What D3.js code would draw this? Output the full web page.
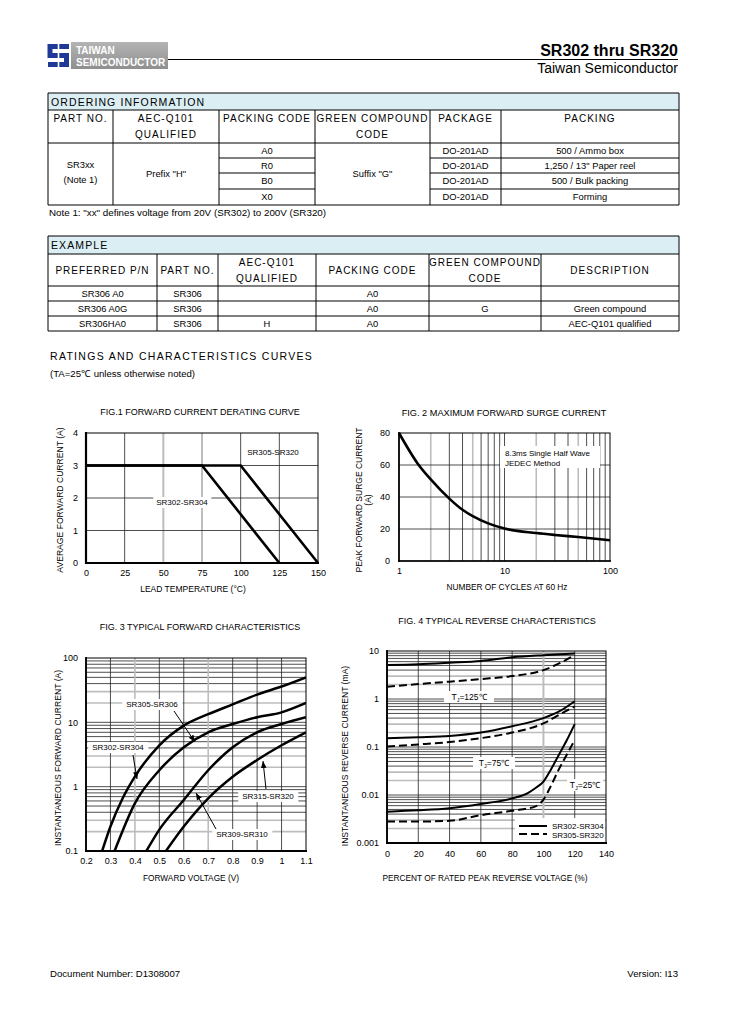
<!DOCTYPE html>
<html><head><meta charset="utf-8">
<script src="https://cdn.jsdelivr.net/npm/d3@7"></script>
<style>
body{margin:0;background:#fff}
svg{display:block}
text{font-family:"Liberation Sans",Arial,sans-serif;fill:#000}
</style>
</head><body>
<svg id="c" width="729" height="1032"></svg>
<script>
// ---------------- DATA ----------------
const orderTitle = "ORDERING INFORMATION";
const orderHeaders = [["PART NO."],["AEC-Q101","QUALIFIED"],["PACKING CODE"],["GREEN COMPOUND","CODE"],["PACKAGE"],["PACKING"]];
const orderPart = ["SR3xx","(Note 1)"];
const orderAec = "Prefix \"H\"";
const orderGreen = "Suffix \"G\"";
const packingCodes = ["A0","R0","B0","X0"];
const packages = ["DO-201AD","DO-201AD","DO-201AD","DO-201AD"];
const packings = ["500 / Ammo box","1,250 / 13\" Paper reel","500 / Bulk packing","Forming"];
const orderNote = "Note 1: \"xx\" defines voltage from 20V (SR302) to 200V (SR320)";

const exampleTitle = "EXAMPLE";
const exampleHeaders = [["PREFERRED P/N"],["PART NO."],["AEC-Q101","QUALIFIED"],["PACKING CODE"],["GREEN COMPOUND","CODE"],["DESCRIPTION"]];
const exampleRows = [
  ["SR306 A0","SR306","","A0","",""],
  ["SR306 A0G","SR306","","A0","G","Green compound"],
  ["SR306HA0","SR306","H","A0","","AEC-Q101 qualified"]
];

// Fig 1
const fig1XTicks = [0,25,50,75,100,125,150];
const fig1YTicks = [0,1,2,3,4];
const fig1LightX = [50,75];
const fig1Temp302 = [0,75,125];
const fig1Cur302  = [3,3,0];
const fig1Temp305 = [0,100,150];
const fig1Cur305  = [3,3,0];

// Fig 2
const fig2XTicks = [1,10,100];
const fig2YTicks = [0,20,40,60,80];
const fig2LightX = [2,5,20,50];
const fig2Cycles  = [1,1.5,2,3,4,5,7,10,20,30,50,100];
const fig2Current = [80,61,51,39,32,28,23.5,20.3,17.5,16.3,15,13];

// Fig 3
const fig3XTicks = [0.2,0.3,0.4,0.5,0.6,0.7,0.8,0.9,1.0,1.1];
const fig3YTicks = [0.1,1,10,100];
const fig3LightX = [0.4,0.7];
const fig3V302 = [0.266,0.30,0.35,0.40,0.50,0.60,0.70,0.80,0.90,1.00,1.10];
const fig3I302 = [0.1,0.24,0.66,1.43,4.4,8.9,13.4,19,27,36,50];
const fig3V305 = [0.317,0.40,0.50,0.60,0.70,0.80,0.90,1.00,1.10];
const fig3I305 = [0.1,0.55,1.8,4.1,7,9.4,12,14.3,20];
const fig3V309 = [0.447,0.50,0.60,0.70,0.80,0.90,1.00,1.10];
const fig3I309 = [0.1,0.215,0.62,1.8,4.1,7,9.4,12];
const fig3V315 = [0.527,0.60,0.70,0.80,0.90,1.00,1.10];
const fig3I315 = [0.1,0.24,0.66,1.43,2.6,4.4,7];

// Fig 4
const fig4XTicks = [0,20,40,60,80,100,120,140];
const fig4YTicks = [0.001,0.01,0.1,1,10];
const fig4LightX = [100];
const fig4Pct125s = [0,20,40,60,80,100,120];
const fig4Cur125s = [5.1,5.3,5.7,6.2,7.4,8.2,8.9];
const fig4Pct125d = [0,20,40,60,80,100,110,120];
const fig4Cur125d = [1.8,2.05,2.3,2.6,3.0,4.0,5.5,8.2];
const fig4Pct75s = [0,20,40,60,80,100,110,120];
const fig4Cur75s = [0.153,0.16,0.17,0.2,0.27,0.4,0.55,0.9];
const fig4Pct75d = [0,20,40,60,80,100,110,120];
const fig4Cur75d = [0.102,0.113,0.127,0.153,0.2,0.31,0.47,0.7];
const fig4Pct25s = [0,20,40,60,80,90,95,100,105,110,115,120];
const fig4Cur25s = [0.0045,0.0048,0.0053,0.0065,0.0085,0.011,0.014,0.019,0.035,0.07,0.14,0.3];
const fig4Pct25d = [0,20,40,60,80,95,100,105,110,115,120];
const fig4Cur25d = [0.0028,0.0028,0.0029,0.0038,0.0047,0.0058,0.008,0.016,0.035,0.07,0.14];

// ---------------- DRAWING ----------------
const svg = d3.select("#c");
svg.append("rect").attr("width",729).attr("height",1032).attr("fill","#fff");

function T(g,x,y,s,o={}){
  const t=g.append("text").attr("x",x).attr("y",y).text(s)
    .attr("font-size",o.size||9)
    .attr("text-anchor",o.anchor||"start");
  if(o.weight) t.attr("font-weight",o.weight);
  if(o.ls) t.attr("letter-spacing",o.ls);
  if(o.fill) t.style("fill",o.fill);
  return t;
}
function L(g,x1,y1,x2,y2,stroke="#000",w=1){
  return g.append("line").attr("x1",x1).attr("y1",y1).attr("x2",x2).attr("y2",y2)
    .attr("stroke",stroke).attr("stroke-width",w);
}

// ---- Header ----
const defs = svg.append("defs");
const gr = defs.append("linearGradient").attr("id","lg").attr("x1",0).attr("x2",0).attr("y1",0).attr("y2",1);
gr.append("stop").attr("offset","0%").attr("stop-color","#b4b4b4");
gr.append("stop").attr("offset","100%").attr("stop-color","#8f8f8f");
const hdr = svg.append("g");
hdr.append("path").attr("d","M69,46.5 H50 V55.5 H66.5 V64.5 H48")
  .attr("fill","none").attr("stroke","#1e3a96").attr("stroke-width",5);
L(hdr,58.5,43,58.5,68,"#fff",1.6);
hdr.append("rect").attr("x",71).attr("y",42).attr("width",97).attr("height",27).attr("fill","url(#lg)");
T(hdr,76,53.5,"TAIWAN",{size:10,weight:"bold",fill:"#fff"});
T(hdr,76,66,"SEMICONDUCTOR",{size:10,weight:"bold",fill:"#fff"});
L(hdr,168,59.5,678,59.5,"#000",1);
T(hdr,678,56,"SR302 thru SR320",{size:16,weight:"bold",anchor:"end"});
T(hdr,678,73,"Taiwan Semiconductor",{size:14,anchor:"end"});

// ---- Ordering table ----
const CELL=9.4;
const ot = svg.append("g");
const oc = [48,113,219,315,430,501,679];
const oRows = [143,158,173,189,205];
ot.append("rect").attr("x",48).attr("y",93).attr("width",631).attr("height",17).attr("fill","#dbeef3");
T(ot,51,105.5,orderTitle,{size:10.5,ls:1.1});
orderHeaders.forEach((h,i)=>{
  const cx=(oc[i]+oc[i+1])/2;
  h.forEach((s,j)=>T(ot,cx,122+j*16,s,{size:10,anchor:"middle",ls:1}));
});
T(ot,(oc[0]+oc[1])/2,168,orderPart[0],{anchor:"middle",size:CELL});
T(ot,(oc[0]+oc[1])/2,183,orderPart[1],{anchor:"middle",size:CELL});
T(ot,(oc[1]+oc[2])/2,177,orderAec,{anchor:"middle",size:CELL});
T(ot,(oc[3]+oc[4])/2,177,orderGreen,{anchor:"middle",size:CELL});
packingCodes.forEach((s,i)=>{
  const cy=(oRows[i]+oRows[i+1])/2+3.3;
  T(ot,(oc[2]+oc[3])/2,cy,s,{anchor:"middle",size:CELL});
  T(ot,(oc[4]+oc[5])/2,cy,packages[i],{anchor:"middle",size:CELL});
  T(ot,(oc[5]+oc[6])/2,cy,packings[i],{anchor:"middle",size:CELL});
});
[93,110,143,205].forEach(y=>L(ot,48,y,679,y));
[158,173,189].forEach(y=>{L(ot,oc[2],y,oc[3],y);L(ot,oc[4],y,oc[6],y);});
L(ot,48,93,48,205);L(ot,679,93,679,205);
oc.slice(1,-1).forEach(x=>L(ot,x,110,x,205));
T(ot,49,216,orderNote,{size:9.8});

// ---- Example table ----
const et = svg.append("g");
const ec = [48,157,218,316,429,541,679];
const eRows = [286,301,316,331];
et.append("rect").attr("x",48).attr("y",236).attr("width",631).attr("height",18).attr("fill","#dbeef3");
T(et,51,249,exampleTitle,{size:10.5,ls:1.1});
exampleHeaders.forEach((h,i)=>{
  const cx=(ec[i]+ec[i+1])/2;
  if(h.length===1) T(et,cx,274,h[0],{size:10,anchor:"middle",ls:1});
  else h.forEach((s,j)=>T(et,cx,266+j*16,s,{size:10,anchor:"middle",ls:1}));
});
exampleRows.forEach((r,ri)=>{
  const cy=(eRows[ri]+eRows[ri+1])/2+3.3;
  r.forEach((s,ci)=>{ if(s) T(et,(ec[ci]+ec[ci+1])/2,cy,s,{anchor:"middle",size:CELL}); });
});
[236,254,286,301,316,331].forEach(y=>L(et,48,y,679,y));
L(et,48,236,48,331);L(et,679,236,679,331);
ec.slice(1,-1).forEach(x=>L(et,x,254,x,331));

// ---- Section heading ----
T(svg,50,360,"RATINGS AND CHARACTERISTICS CURVES",{size:10.5,ls:1.3});
T(svg,50,377,"(TA=25\u2103 unless otherwise noted)",{size:9.6});

const DARK="#222", LIGHT="#bdbdbd", TICK=9;
function styleAxis(g){
  g.select(".domain").remove();
  g.selectAll("text").attr("font-size",TICK).style("font-family",'"Liberation Sans",Arial,sans-serif').style("fill","#000");
}
function labelBox(g,x,y,s,o={}){
  const t=T(g,x,y,s,{size:o.size||8,anchor:o.anchor||"middle"});
  const b=t.node().getBBox();
  g.insert("rect",()=>t.node()).attr("x",b.x-(o.px||3)).attr("y",b.y-(o.py||1)).attr("width",b.width+2*(o.px||3)).attr("height",b.height+2*(o.py||1)).attr("fill","#fff");
  return t;
}
function rotTitle(g,x,y,s,size=8.5){
  g.append("text").attr("transform",`translate(${x},${y}) rotate(-90)`).attr("text-anchor","middle")
   .attr("font-size",size).text(s);
}
function logMinors(lo,hi){const a=[];for(let e=lo;e<hi;e++){for(let k=2;k<=9;k++)a.push({v:k*Math.pow(10,e),k});}return a;}

// ---- FIG 1 ----
{
  const g=svg.append("g");
  const x=d3.scaleLinear().domain([0,150]).range([86,318]);
  const y=d3.scaleLinear().domain([0,4]).range([563,433]);
  T(g,200,415,"FIG.1 FORWARD CURRENT DERATING CURVE",{size:9,anchor:"middle"});
  fig1XTicks.slice(1,-1).forEach(v=>{
    const lt=fig1LightX.includes(v);
    L(g,x(v),433,x(v),563,lt?LIGHT:DARK,lt?2:0.8);
  });
  fig1YTicks.slice(1,-1).forEach(v=>L(g,86,y(v),318,y(v),DARK,0.8));
  g.append("rect").attr("x",86).attr("y",433).attr("width",232).attr("height",130).attr("fill","none").attr("stroke","#000").attr("stroke-width",1);
  L(g,86,432,86,564,"#000",2.2);L(g,85,563,319,563,"#000",2.2);
  const ax=g.append("g").attr("transform","translate(86,0)").call(d3.axisLeft(y).tickValues(fig1YTicks).tickSize(0).tickPadding(8).tickFormat(d3.format("d")));
  styleAxis(ax);
  const bx=g.append("g").attr("transform","translate(0,563)").call(d3.axisBottom(x).tickValues(fig1XTicks).tickSize(0).tickPadding(7).tickFormat(d3.format("d")));
  styleAxis(bx);
  T(g,193,592,"LEAD TEMPERATURE (\u00b0C)",{size:8.5,anchor:"middle"});
  rotTitle(g,63,500,"AVERAGE FORWARD CURRENT (A)",8.6);
  const line=d3.line().x(d=>x(d[0])).y(d=>y(d[1]));
  g.append("path").attr("d",line(d3.zip(fig1Temp302,fig1Cur302))).attr("fill","none").attr("stroke","#000").attr("stroke-width",2.6);
  g.append("path").attr("d",line(d3.zip(fig1Temp305,fig1Cur305))).attr("fill","none").attr("stroke","#000").attr("stroke-width",2.6);
  T(g,273,455,"SR305-SR320",{size:8,anchor:"middle"});
  labelBox(g,182,505,"SR302-SR304",{px:3,py:1});
}

// ---- FIG 2 ----
{
  const g=svg.append("g");
  const x=d3.scaleLog().domain([1,100]).range([399,610]);
  const y=d3.scaleLinear().domain([0,80]).range([561,433]);
  T(g,504,416,"FIG. 2 MAXIMUM FORWARD SURGE CURRENT",{size:9.2,anchor:"middle"});
  logMinors(0,2).forEach(({v})=>{
    const lt=fig2LightX.includes(v);
    L(g,x(v),433,x(v),561,lt?LIGHT:DARK,lt?1.6:0.8);
  });
  L(g,x(10),433,x(10),561,DARK,0.8);
  fig2YTicks.slice(1,-1).forEach(v=>L(g,399,y(v),610,y(v),DARK,0.8));
  g.append("rect").attr("x",399).attr("y",433).attr("width",211).attr("height",128).attr("fill","none").attr("stroke","#000").attr("stroke-width",1);
  L(g,399,432,399,562,"#000",1.6);L(g,398,561,611,561,"#000",1.6);
  g.append("rect").attr("x",500).attr("y",446).attr("width",100).attr("height",22).attr("fill","#fff");
  T(g,505,456,"8.3ms Single Half Wave",{size:8});
  T(g,505,465.5,"JEDEC Method",{size:8});
  const ax=g.append("g").attr("transform","translate(399,0)").call(d3.axisLeft(y).tickValues(fig2YTicks).tickSize(0).tickPadding(9).tickFormat(d3.format("d")));
  styleAxis(ax);
  const bx=g.append("g").attr("transform","translate(0,561)").call(d3.axisBottom(x).tickValues(fig2XTicks).tickSize(0).tickPadding(7).tickFormat(d3.format("d")));
  styleAxis(bx);
  T(g,507,590,"NUMBER OF CYCLES AT 60 Hz",{size:8.3,anchor:"middle"});
  rotTitle(g,362,500,"PEAK FORWARD SURGE CURRENT",8.5);
  rotTitle(g,371,500,"(A)",8.5);
  const line=d3.line().x(d=>x(d[0])).y(d=>y(d[1])).curve(d3.curveMonotoneX);
  g.append("path").attr("d",line(d3.zip(fig2Cycles,fig2Current))).attr("fill","none").attr("stroke","#000").attr("stroke-width",2.6);
}

// ---- FIG 3 ----
{
  const g=svg.append("g");
  const x=d3.scaleLinear().domain([0.2,1.1]).range([86,306]);
  const y=d3.scaleLog().domain([0.1,100]).range([851,658]);
  T(g,200,630,"FIG. 3 TYPICAL FORWARD CHARACTERISTICS",{size:9,anchor:"middle"});
  logMinors(-1,2).forEach(({v,k})=>{
    const lt=(k===2||k===3);
    L(g,86,y(v),306,y(v),lt?LIGHT:DARK,lt?1.6:0.8);
  });
  [1,10].forEach(v=>L(g,86,y(v),306,y(v),DARK,0.8));
  fig3XTicks.slice(1,-1).forEach(v=>{
    const lt=fig3LightX.some(l=>Math.abs(l-v)<1e-6);
    L(g,x(v),658,x(v),851,lt?LIGHT:DARK,lt?1.6:0.8);
  });
  g.append("rect").attr("x",86).attr("y",658).attr("width",220).attr("height",193).attr("fill","none").attr("stroke","#000").attr("stroke-width",1);
  L(g,86,657,86,852,"#000",1.8);L(g,85,851,307,851,"#000",1.8);
  const ax=g.append("g").attr("transform","translate(86,0)").call(d3.axisLeft(y).tickValues(fig3YTicks).tickSize(0).tickPadding(8).tickFormat(d=>String(d)));
  styleAxis(ax);
  const bx=g.append("g").attr("transform","translate(0,851)").call(d3.axisBottom(x).tickValues(fig3XTicks).tickSize(0).tickPadding(7).tickFormat(d=>String(+d.toFixed(1))));
  styleAxis(bx);
  T(g,191,881,"FORWARD VOLTAGE (V)",{size:8.3,anchor:"middle"});
  rotTitle(g,61,758,"INSTANTANEOUS FORWARD CURRENT (A)",8.6);
  defs.append("clipPath").attr("id","cp3").append("rect").attr("x",86).attr("y",658).attr("width",220).attr("height",193);
  const line=d3.line().x(d=>x(d[0])).y(d=>y(d[1])).curve(d3.curveMonotoneX);
  const cg=g.append("g").attr("clip-path","url(#cp3)");
  [[fig3V302,fig3I302],[fig3V305,fig3I305],[fig3V309,fig3I309],[fig3V315,fig3I315]].forEach(([a,b])=>{
    cg.append("path").attr("d",line(d3.zip(a,b))).attr("fill","none").attr("stroke","#000").attr("stroke-width",2.5);
  });
  defs.append("marker").attr("id","ah").attr("viewBox","0 0 10 10").attr("refX",10).attr("refY",5)
    .attr("markerWidth",7).attr("markerHeight",7).attr("markerUnits","userSpaceOnUse").attr("orient","auto")
    .append("path").attr("d","M0,1 L10,5 L0,9 Z").attr("fill","#000");
  labelBox(g,152,707,"SR305-SR306",{px:4,py:1});
  labelBox(g,118,750,"SR302-SR304",{px:4,py:1});
  labelBox(g,268,799,"SR315-SR320",{px:4,py:1});
  labelBox(g,242,837,"SR309-SR310",{px:4,py:1});
  [[174,711,195,742],[133,755,137,779],[266,789,263,761],[216,829,196,793]].forEach(a=>{
    L(g,a[0],a[1],a[2],a[3],"#000",1).attr("marker-end","url(#ah)");
  });
}

// ---- FIG 4 ----
{
  const g=svg.append("g");
  const x=d3.scaleLinear().domain([0,140]).range([387,606]);
  const y=d3.scaleLog().domain([0.001,10]).range([843,651]);
  T(g,497,624,"FIG. 4 TYPICAL REVERSE CHARACTERISTICS",{size:9,anchor:"middle"});
  logMinors(-3,1).forEach(({v,k})=>{
    const lt=(k===2||k===3);
    L(g,387,y(v),606,y(v),lt?LIGHT:DARK,lt?1.6:0.8);
  });
  [0.01,0.1,1].forEach(v=>L(g,387,y(v),606,y(v),DARK,0.8));
  fig4XTicks.slice(1,-1).forEach(v=>{
    const lt=fig4LightX.includes(v);
    L(g,x(v),651,x(v),843,lt?LIGHT:DARK,lt?2:0.8);
  });
  g.append("rect").attr("x",387).attr("y",651).attr("width",219).attr("height",192).attr("fill","none").attr("stroke","#000").attr("stroke-width",1);
  L(g,387,650,387,844,"#000",1.8);L(g,386,843,607,843,"#000",1.8);
  const ax=g.append("g").attr("transform","translate(387,0)").call(d3.axisLeft(y).tickValues(fig4YTicks).tickSize(0).tickPadding(8).tickFormat(d=>String(d)));
  styleAxis(ax);
  const bx=g.append("g").attr("transform","translate(0,843)").call(d3.axisBottom(x).tickValues(fig4XTicks).tickSize(0).tickPadding(8).tickFormat(d3.format("d")));
  styleAxis(bx);
  T(g,485,881,"PERCENT OF RATED PEAK REVERSE VOLTAGE (%)",{size:8.3,anchor:"middle"});
  rotTitle(g,348,756,"INSTANTANEOUS REVERSE CURRENT (mA)",8.6);
  function tjLabel(cx,cy,temp,w){
    g.append("rect").attr("x",cx-w/2).attr("y",cy-6).attr("width",w).attr("height",12).attr("fill","#fff");
    const t=g.append("text").attr("x",cx).attr("y",cy+3).attr("text-anchor","middle").attr("font-size",8.5);
    t.append("tspan").text("T");
    t.append("tspan").text("J").attr("font-size",5.5).attr("dy",2);
    t.append("tspan").text("="+temp+"\u2103").attr("dy",-2);
  }
  tjLabel(469,697,"125",50);
  tjLabel(494,763,"75",42);
  tjLabel(585,785,"25",36);
  const line=d3.line().x(d=>x(d[0])).y(d=>y(d[1])).curve(d3.curveMonotoneX);
  const series=[
    [fig4Pct125s,fig4Cur125s,false],[fig4Pct125d,fig4Cur125d,true],
    [fig4Pct75s,fig4Cur75s,false],[fig4Pct75d,fig4Cur75d,true],
    [fig4Pct25s,fig4Cur25s,false],[fig4Pct25d,fig4Cur25d,true]
  ];
  series.forEach(([a,b,d])=>{
    const p=g.append("path").attr("d",line(d3.zip(a,b))).attr("fill","none").attr("stroke","#000").attr("stroke-width",2);
    if(d) p.attr("stroke-dasharray","8,4");
  });
  g.append("rect").attr("x",515).attr("y",818).attr("width",90).attr("height",24).attr("fill","#fff");
  L(g,519,826,547,826,"#000",2);
  L(g,519,834,547,834,"#000",2).attr("stroke-dasharray","8,4");
  T(g,552,829,"SR302-SR304",{size:8});
  T(g,552,837.5,"SR305-SR320",{size:8});
}

// ---- Footer ----
T(svg,50,977,"Document Number: D1308007",{size:9.6});
T(svg,678,977,"Version: I13",{size:9.6,anchor:"end"});
</script>
</body></html>
